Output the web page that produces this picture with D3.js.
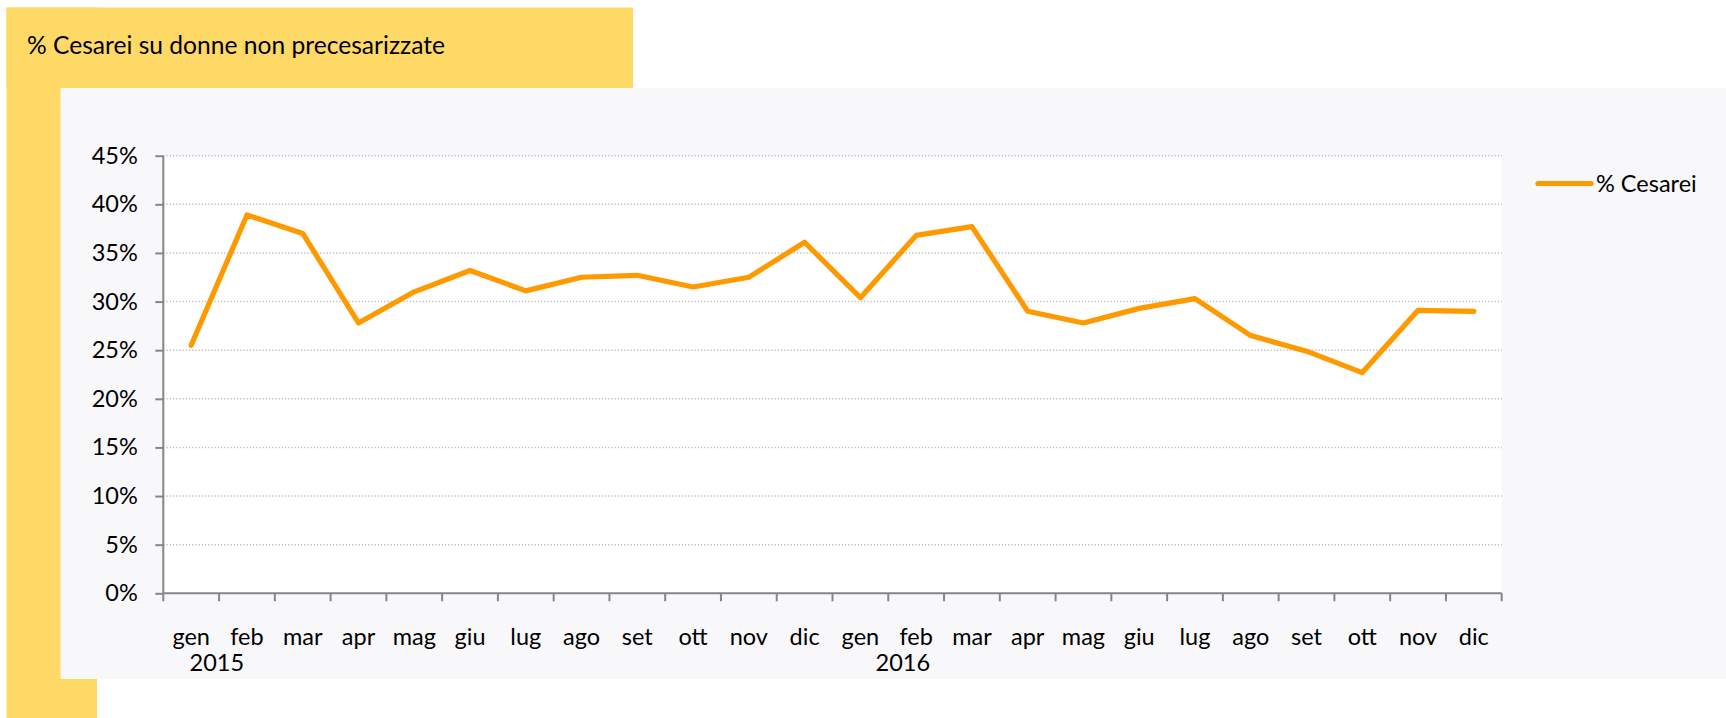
<!DOCTYPE html>
<html>
<head>
<meta charset="utf-8">
<script src="https://cdn.jsdelivr.net/npm/d3@7"></script>
<style>
  html, body { margin: 0; padding: 0; background: #fff; }
  svg { display: block; font-family: Lato, "Open Sans", sans-serif; }
</style>
</head>
<body>
<svg id="chart" width="1726" height="718"></svg>
<script>
// data
const months = ["gen", "feb", "mar", "apr", "mag", "giu", "lug", "ago", "set", "ott", "nov", "dic",
                "gen", "feb", "mar", "apr", "mag", "giu", "lug", "ago", "set", "ott", "nov", "dic"];
const years = ["2015", "2016"];
const cesarei = [0.255, 0.389, 0.370, 0.278, 0.310, 0.332, 0.311, 0.325, 0.327, 0.315, 0.325, 0.361,
                 0.304, 0.368, 0.377, 0.290, 0.278, 0.293, 0.303, 0.265, 0.249, 0.227, 0.291, 0.290];
const yTicks = [0, 0.05, 0.10, 0.15, 0.20, 0.25, 0.30, 0.35, 0.40, 0.45];
const titleText = "% Cesarei su donne non precesarizzate";
const seriesName = "% Cesarei";

const svg = d3.select("#chart");
const orange = "#ff9900";
const fontSize = 23.5;

// yellow frame (L shape)
svg.append("rect").attr("x", 6.5).attr("y", 7.5).attr("width", 626.5).attr("height", 81)
  .attr("fill", "#ffd966");
svg.append("rect").attr("x", 6.5).attr("y", 7.5).attr("width", 90.5).attr("height", 711)
  .attr("fill", "#ffd966");

svg.append("text")
  .attr("x", 27).attr("y", 54)
  .attr("font-size", 24.6)
  .attr("fill", "#000")
  .text(titleText);

// chart area
svg.append("rect").attr("x", 60.5).attr("y", 88).attr("width", 1666).attr("height", 591)
  .attr("fill", "#f8f8fb");

const plot = { left: 163.3, right: 1501.7, top: 155.7, bottom: 593.3 };

svg.append("rect")
  .attr("x", plot.left).attr("y", plot.top)
  .attr("width", plot.right - plot.left).attr("height", plot.bottom - plot.top)
  .attr("fill", "#fff");

const x = d3.scaleBand()
  .domain(d3.range(months.length))
  .range([plot.left, plot.right])
  .paddingInner(0).paddingOuter(0);

const y = d3.scaleLinear()
  .domain([0, 0.45])
  .range([plot.bottom, plot.top]);

// gridlines
svg.append("g")
  .selectAll("line")
  .data(yTicks.filter(d => d > 0))
  .join("line")
  .attr("x1", plot.left).attr("x2", plot.right)
  .attr("y1", d => y(d)).attr("y2", d => y(d))
  .attr("stroke", "#bcbcbc")
  .attr("stroke-width", 1.5)
  .attr("stroke-dasharray", "1.2,2");

// y axis
const yAxis = svg.append("g")
  .attr("transform", `translate(${plot.left},0)`)
  .call(d3.axisLeft(y).tickValues(yTicks).tickSize(8).tickPadding(17.5)
    .tickFormat(d => Math.round(d * 100) + "%"));
yAxis.select(".domain").remove();
yAxis.selectAll("line").attr("stroke", "#868686").attr("stroke-width", 2);
yAxis.selectAll("text").attr("font-size", fontSize).attr("fill", "#000")
  .attr("font-family", "Lato, sans-serif");
svg.append("line")
  .attr("x1", plot.left).attr("x2", plot.left)
  .attr("y1", plot.top).attr("y2", plot.bottom)
  .attr("stroke", "#868686").attr("stroke-width", 2);

// x axis labels
const xAxis = svg.append("g")
  .attr("transform", `translate(0,${plot.bottom})`)
  .call(d3.axisBottom(x).tickSize(0).tickPadding(35).tickFormat(i => months[i]));
xAxis.select(".domain").remove();
xAxis.selectAll("text").attr("font-size", fontSize).attr("fill", "#000")
  .attr("font-family", "Lato, sans-serif");

// x axis line and boundary ticks
svg.append("line")
  .attr("x1", plot.left).attr("x2", plot.right)
  .attr("y1", plot.bottom).attr("y2", plot.bottom)
  .attr("stroke", "#868686").attr("stroke-width", 2);
svg.append("g")
  .selectAll("line")
  .data(d3.range(months.length + 1))
  .join("line")
  .attr("x1", i => i < months.length ? x(i) : plot.right)
  .attr("x2", i => i < months.length ? x(i) : plot.right)
  .attr("y1", plot.bottom).attr("y2", plot.bottom + 8)
  .attr("stroke", "#868686").attr("stroke-width", 2);

// year labels under each group of months
const yearOffset = [0.96, 1.26];
svg.append("g")
  .selectAll("text")
  .data(years)
  .join("text")
  .attr("x", (d, i) => x(i * 12) + x.bandwidth() * yearOffset[i])
  .attr("y", 671)
  .attr("text-anchor", "middle")
  .attr("font-size", fontSize)
  .text(d => d);

// line
const line = d3.line()
  .x((d, i) => x(i) + x.bandwidth() / 2)
  .y(d => y(d));

svg.append("path")
  .datum(cesarei)
  .attr("fill", "none")
  .attr("stroke", orange)
  .attr("stroke-width", 5.2)
  .attr("stroke-linejoin", "round")
  .attr("stroke-linecap", "round")
  .attr("d", line);

// legend
const legend = svg.append("g").attr("transform", "translate(1538,183.5)");
legend.append("line")
  .attr("x1", 0).attr("x2", 53)
  .attr("stroke", orange).attr("stroke-width", 5.2).attr("stroke-linecap", "round");
legend.append("text")
  .attr("x", 58).attr("y", 0).attr("dy", "0.35em")
  .attr("font-size", fontSize)
  .text(seriesName);
</script>
</body>
</html>
